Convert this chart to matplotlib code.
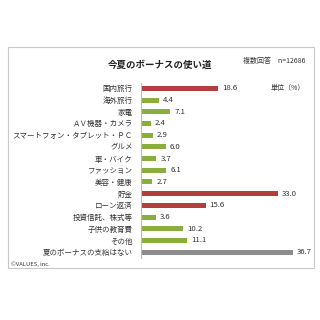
import matplotlib
matplotlib.use("Agg")
import matplotlib.pyplot as plt
from matplotlib.patches import Rectangle

plt.rcParams['font.family'] = ['Noto Sans CJK JP', 'DejaVu Sans']

categories = ["国内旅行", "海外旅行", "家電", "ＡＶ機器・カメラ", "スマートフォン・タブレット・ＰＣ",
              "グルメ", "車・バイク", "ファッション", "美容・健康", "貯金", "ローン返済",
              "投資信託、株式等", "子供の教育費", "その他", "夏のボーナスの支給はない"]
values = [18.6, 4.4, 7.1, 2.4, 2.9, 6.0, 3.7, 6.1, 2.7, 33.0, 15.6, 3.6, 10.2, 11.1, 36.7]
kinds = ["hi", "lo", "lo", "lo", "lo", "lo", "lo", "lo", "lo", "hi", "hi", "lo", "lo", "lo", "none"]

COLORS = {"hi": "#B33F3D", "lo": "#8AAE3E", "none": "#8C8C8C"}

fig = plt.figure(figsize=(3.2, 3.2), dpi=100)

# outer frame
fig.patches.append(Rectangle((8 / 320, 1 - 268 / 320), 306 / 320, 221 / 320,
                             transform=fig.transFigure, fill=False,
                             edgecolor="#C8C8C8", linewidth=0.8))

ax = fig.add_axes([141 / 320, 1 - 258 / 320, 165.7 / 320, 175.5 / 320])
ypos = list(range(len(categories)))
ax.barh(ypos, values, height=0.43, color=[COLORS[k] for k in kinds])
ax.set_xlim(0, 40)
ax.set_ylim(len(categories) - 0.5, -0.5)
ax.set_yticks(ypos)
ax.set_yticklabels(categories, fontsize=5.4, color="#333333")
ax.tick_params(axis="y", length=0, pad=6)
ax.set_xticks([])
for s in ["top", "right", "bottom"]:
    ax.spines[s].set_visible(False)
ax.spines["left"].set_color("#BBBBBB")
ax.spines["left"].set_linewidth(0.8)
ax.patch.set_alpha(0)

for y, v in zip(ypos, values):
    ax.text(v + 1.0, y, f"{v:.1f}", va="center", ha="left", fontsize=5.6, color="#333333")

fig.text(0.5, 1 - 65 / 320, "今夏のボーナスの使い道", ha="center", va="center",
         fontsize=6.8, fontweight="bold", color="#222222")
fig.text(305 / 320, 1 - 61 / 320, "複数回答　n=12686", ha="right", va="center",
         fontsize=5, color="#333333")
fig.text(305 / 320, 1 - 88 / 320, "単位（%）", ha="right", va="center",
         fontsize=5, color="#333333")
fig.text(11 / 320, 1 - 264 / 320, "©VALUES, inc.", ha="left", va="center",
         fontsize=4.2, color="#333333")

fig.savefig("out.png", dpi=100)
